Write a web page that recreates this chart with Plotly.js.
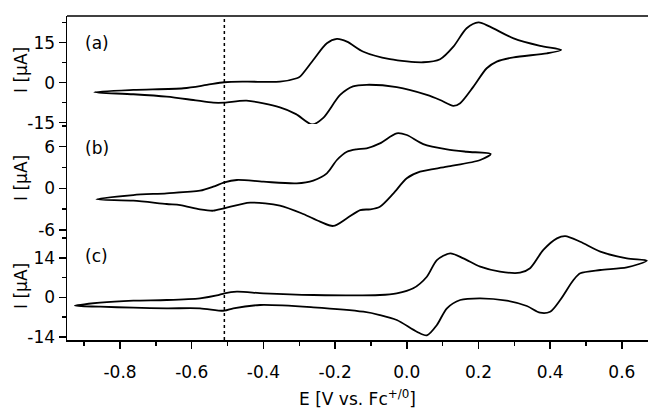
<!DOCTYPE html>
<html>
<head>
<meta charset="utf-8">
<script src="https://cdn.plot.ly/plotly-3.0.1.min.js"></script>
<style>html,body{margin:0;padding:0;background:#fff;}#chart{width:648px;height:409px;}</style>
</head>
<body>
<div id="chart"></div>
<script>
// Panel (a) cyclic voltammogram: E [V vs Fc+/0], I [uA]
const aE = [-0.872,-0.763,-0.623,-0.558,-0.509,-0.447,-0.354,-0.307,-0.298,-0.261,-0.223,-0.195,-0.167,-0.121,-0.047,0.046,0.093,0.130,0.167,0.200,0.232,0.298,0.372,0.431,
            0.391,0.298,0.251,0.223,0.186,0.149,0.130,0.093,0.056,-0.028,-0.112,-0.150,-0.186,-0.233,-0.264,-0.309,-0.354,-0.447,-0.509,-0.540,-0.596,-0.670,-0.763,-0.872];
const aI = [-3.6,-2.74,-2.1,-0.86,0.15,0.37,0.37,1.65,2.25,8.5,14.8,16.4,15.4,11.6,8.8,7.65,8.8,13.5,20.4,22.6,21.0,16.6,13.8,12.3,
            11.0,9.5,7.9,5.4,-1.5,-7.7,-8.7,-6.5,-4.6,-1.7,-0.8,-1.4,-4.6,-13.2,-15.7,-11.8,-9.3,-6.75,-7.5,-7.5,-6.5,-5.25,-4.35,-3.6];

// Panel (b)
const bE = [-0.866,-0.763,-0.670,-0.577,-0.540,-0.509,-0.474,-0.400,-0.307,-0.261,-0.223,-0.195,-0.167,-0.140,-0.112,-0.075,-0.028,0.000,0.046,0.112,0.167,0.234,
            0.205,0.112,0.037,0.000,-0.037,-0.075,-0.102,-0.130,-0.167,-0.205,-0.242,-0.289,-0.354,-0.437,-0.509,-0.540,-0.577,-0.632,-0.670,-0.763,-0.866];
const bI = [-1.59,-0.97,-0.72,-0.35,0.23,0.86,1.20,0.95,0.72,1.12,2.16,4.08,5.27,5.62,5.76,6.48,7.93,7.68,6.38,5.62,5.27,4.94,
            4.08,3.11,2.39,1.44,-0.72,-2.65,-3.03,-3.13,-4.32,-5.43,-4.81,-3.70,-2.48,-2.07,-2.88,-3.23,-3.03,-2.41,-2.26,-1.79,-1.59];

// Panel (c)
const cE = [-0.926,-0.856,-0.763,-0.670,-0.577,-0.530,-0.509,-0.474,-0.400,-0.261,-0.075,-0.028,0.018,0.056,0.084,0.121,0.158,0.205,0.260,0.316,0.344,0.381,0.419,0.442,0.484,0.540,0.614,0.670,
            0.614,0.540,0.484,0.465,0.428,0.400,0.372,0.335,0.279,0.205,0.149,0.112,0.084,0.056,0.028,-0.028,-0.075,-0.121,-0.261,-0.409,-0.484,-0.509,-0.577,-0.670,-0.763,-0.856,-0.926];
const cI = [-2.98,-1.91,-1.21,-0.96,-0.35,0.64,1.42,1.99,1.42,0.82,0.82,1.42,3.19,7.30,13.2,15.6,13.8,10.85,9.08,8.72,10.3,16.8,20.9,21.7,19.7,16.2,13.8,13.0,
            10.6,9.68,8.51,6.13,-0.96,-5.11,-5.46,-3.09,-1.21,-0.35,-0.96,-3.90,-9.82,-13.5,-12.2,-8.05,-6.28,-5.11,-3.55,-2.73,-3.90,-4.75,-3.90,-3.90,-3.69,-3.33,-2.98];

const panelLabels = ["(a)", "(b)", "(c)"];
const yTitle = "I [µA]";
const xTitle = "E [V vs. Fc<sup>+/0</sup>]";
const xTickVals = [-0.8,-0.6,-0.4,-0.2,0.0,0.2,0.4,0.6];
const xTickText = ["-0.8","-0.6","-0.4","-0.2","0.0","0.2","0.4","0.6"];
const xMinorVals = [-0.9,-0.7,-0.5,-0.3,-0.1,0.1,0.3,0.5];
const aTickVals = [-15,0,15], aTickText = ["-15","0","15"], aMinor = [-7.5,7.5,22.5];
const bTickVals = [-6,0,6], bTickText = ["-6","0","6"], bMinor = [-3,3,9];
const cTickVals = [-14,0,14], cTickText = ["-14","0","14"], cMinor = [-7,7,21];
const refPotential = -0.509;

const font = {family: "DejaVu Sans, sans-serif", size: 17, color: "#000"};
const lineStyle = {color: "#000", width: 1.8, shape: "spline", smoothing: 0.8};

const traces = [
  {x: aE, y: aI, xaxis: "x", yaxis: "y", mode: "lines", line: lineStyle, hoverinfo: "skip"},
  {x: bE, y: bI, xaxis: "x", yaxis: "y2", mode: "lines", line: lineStyle, hoverinfo: "skip"},
  {x: cE, y: cI, xaxis: "x", yaxis: "y3", mode: "lines", line: lineStyle, hoverinfo: "skip"}
];

function yax(domain, range, vals, text, minor) {
  return {
    domain: domain, range: range, tickmode: "array", tickvals: vals, ticktext: text,
    ticks: "outside", ticklen: 7, tickwidth: 1.5, tickcolor: "#000",
    showline: true, linecolor: "#000", linewidth: 1.5, showgrid: false, zeroline: false,
    minor: {tickmode: "array", tickvals: minor, ticks: "outside", ticklen: 4, tickwidth: 1.5, tickcolor: "#000", showgrid: false},
    tickfont: font, anchor: "x", ticklabelstandoff: 0
  };
}

const domains = [[0.6667, 1], [0.3333, 0.6667], [0, 0.3333]];
const labelY = [0.917, 0.593, 0.259];

const annotations = [];
for (let i = 0; i < 3; i++) {
  annotations.push({text: panelLabels[i], xref: "paper", yref: "paper", x: 0.027, y: labelY[i],
    xanchor: "left", yanchor: "middle", showarrow: false, font: font});
  annotations.push({text: yTitle, xref: "paper", yref: "paper", x: -0.0792, y: (domains[i][0] + domains[i][1]) / 2,
    xanchor: "center", yanchor: "middle", textangle: -90, showarrow: false, font: font});
}

const layout = {
  width: 648, height: 409,
  margin: {l: 67, r: 0, t: 16, b: 69},
  paper_bgcolor: "#fff", plot_bgcolor: "#fff",
  showlegend: false,
  xaxis: {
    range: [-0.948, 0.673], anchor: "y3",
    tickmode: "array", tickvals: xTickVals, ticktext: xTickText,
    ticks: "outside", ticklen: 7, tickwidth: 1.5, tickcolor: "#000",
    minor: {tickmode: "array", tickvals: xMinorVals, ticks: "outside", ticklen: 4, tickwidth: 1.5, tickcolor: "#000", showgrid: false},
    showline: true, linecolor: "#000", linewidth: 1.5, showgrid: false, zeroline: false,
    tickfont: font, ticklabelstandoff: 9,
    title: {text: xTitle, font: font, standoff: 14}
  },
  yaxis: yax(domains[0], [-15.5, 25.0], aTickVals, aTickText, aMinor),
  yaxis2: yax(domains[1], [-6.3, 9.27], bTickVals, bTickText, bMinor),
  yaxis3: yax(domains[2], [-15.14, 23.15], cTickVals, cTickText, cMinor),
  shapes: [
    {type: "line", xref: "paper", yref: "paper", x0: 0, x1: 1, y0: 1, y1: 1, line: {color: "#000", width: 1.5}},
    {type: "line", xref: "x", yref: "paper", x0: refPotential, x1: refPotential, y0: 0, y1: 1, line: {color: "#000", width: 1.5, dash: "dot"}}
  ],
  annotations: annotations
};

Plotly.newPlot("chart", traces, layout, {staticPlot: true, displayModeBar: false});
</script>
</body>
</html>
